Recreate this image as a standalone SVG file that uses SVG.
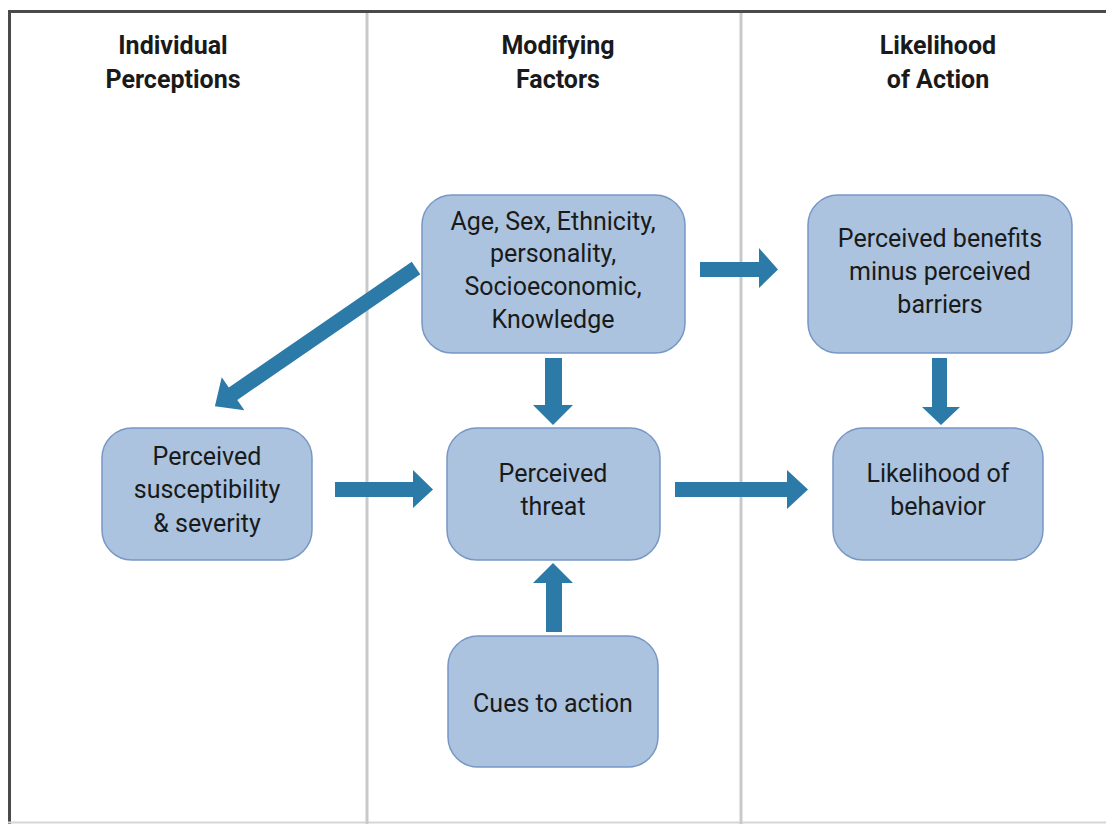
<svg xmlns="http://www.w3.org/2000/svg" width="1106" height="824" viewBox="0 0 1106 824">
<style>
.hdr{font-family:Roboto,"Liberation Sans",sans-serif;font-weight:700;font-size:25px;fill:#1a1a1a;text-anchor:middle}
.lbl{font-family:Roboto,"Liberation Sans",sans-serif;font-size:25px;fill:#1a1a1a;text-anchor:middle}
.box{fill:#abc3de;stroke:#7797c6;stroke-width:1.5}
.arr{fill:#2b7aa7}
.div{stroke:#c9c9c9;stroke-width:3}
</style>
<rect x="0" y="0" width="1106" height="824" fill="#ffffff"/>
<g id="frame">
<line x1="9.5" y1="11" x2="9.5" y2="824" stroke="#4a4a4a" stroke-width="3"/>
<line x1="8" y1="11.5" x2="1106" y2="11.5" stroke="#4a4a4a" stroke-width="3"/>
<line x1="8" y1="822.5" x2="1106" y2="822.5" stroke="#d6d6d6" stroke-width="2"/>
<line class="div" x1="367" y1="13" x2="367" y2="824"/>
<line class="div" x1="741" y1="13" x2="741" y2="824"/>
</g>
<g id="headers">
<text class="hdr" x="173" y="54">Individual</text>
<text class="hdr" x="173" y="88">Perceptions</text>
<text class="hdr" x="558" y="54">Modifying</text>
<text class="hdr" x="558" y="88">Factors</text>
<text class="hdr" x="938" y="54">Likelihood</text>
<text class="hdr" x="938" y="88">of Action</text>
</g>
<g id="connectors">
<polygon class="arr" transform="translate(416,268) rotate(145.5)" points="0,-7.5 222,-7.5 222,-20 244,0 222,20 222,7.5 0,7.5"/>
<polygon class="arr" points="700,262 759,262 759,248 778,269.5 759,288 759,277 700,277"/>
<polygon class="arr" points="545,358 562,358 562,405 573,405 553,425 533,405 545,405"/>
<polygon class="arr" points="932,358 947,358 947,407 960,407 941,425 922,407 932,407"/>
<polygon class="arr" points="335,482 413,482 413,470 433,489.5 413,508 413,497 335,497"/>
<polygon class="arr" points="675,482 787,482 787,470 808,489.5 787,509 787,497 675,497"/>
<polygon class="arr" points="546,632 562,632 562,583 573,583 553,563 533,583 546,583"/>
</g>
<g id="node-modifying">
<rect class="box" x="422" y="195" width="263" height="158" rx="30"/>
<text class="lbl" x="553" y="230">Age, Sex, Ethnicity,</text>
<text class="lbl" x="553" y="262">personality,</text>
<text class="lbl" x="553" y="295">Socioeconomic,</text>
<text class="lbl" x="553" y="328">Knowledge</text>
</g>
<g id="node-benefits">
<rect class="box" x="808" y="195" width="264" height="158" rx="30"/>
<text class="lbl" x="940" y="247">Perceived benefits</text>
<text class="lbl" x="940" y="280">minus perceived</text>
<text class="lbl" x="940" y="313">barriers</text>
</g>
<g id="node-susceptibility">
<rect class="box" x="102" y="428" width="210" height="132" rx="30"/>
<text class="lbl" x="207" y="465">Perceived</text>
<text class="lbl" x="207" y="498">susceptibility</text>
<text class="lbl" x="207" y="532">&amp; severity</text>
</g>
<g id="node-threat">
<rect class="box" x="447" y="428" width="213" height="132" rx="30"/>
<text class="lbl" x="553" y="482">Perceived</text>
<text class="lbl" x="553" y="515">threat</text>
</g>
<g id="node-likelihood">
<rect class="box" x="833" y="428" width="210" height="132" rx="30"/>
<text class="lbl" x="938" y="482">Likelihood of</text>
<text class="lbl" x="938" y="515">behavior</text>
</g>
<g id="node-cues">
<rect class="box" x="448" y="636" width="210" height="131" rx="30"/>
<text class="lbl" x="553" y="712">Cues to action</text>
</g>
</svg>
